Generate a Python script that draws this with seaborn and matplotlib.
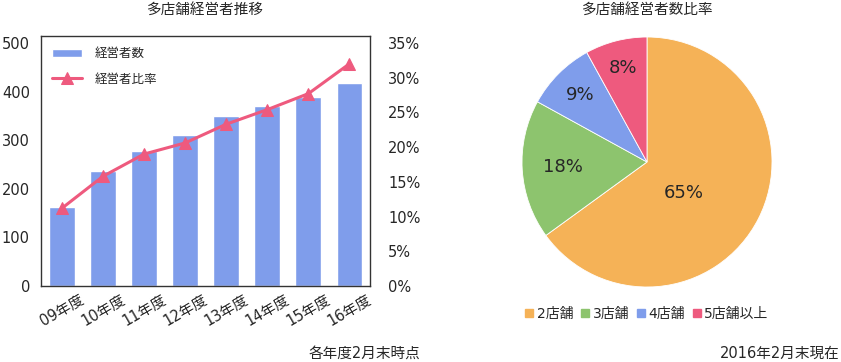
import matplotlib
matplotlib.use("Agg")
import matplotlib.pyplot as plt
import seaborn as sns
import pandas as pd
import numpy as np
from matplotlib.ticker import FuncFormatter
from matplotlib.patches import Patch

sns.set_theme(style="white")
plt.rcParams['font.family'] = ['DejaVu Sans', 'Noto Sans CJK JP']

years = ["09年度", "10年度", "11年度", "12年度", "13年度", "14年度", "15年度", "16年度"]
managers = [163, 237, 278, 311, 350, 370, 389, 418]
ratio = [11.2, 15.8, 19.0, 20.6, 23.3, 25.4, 27.7, 32.0]

pie_labels = ["2店舗", "3店舗", "4店舗", "5店舗以上"]
pie_values = [65, 18, 9, 8]

bar_color = "#7F9DEB"
line_color = "#EE5A7E"
pie_colors = ["#F5B257", "#8DC46E", "#7F9DEB", "#EE5A7E"]
label_radii = [0.38, 0.67, 0.76, 0.78]

fig = plt.figure(figsize=(8.41, 3.62), dpi=100)
W, H = 841, 362
ax = fig.add_axes([41 / W, 1 - 286 / H, (370 - 41) / W, (286 - 36) / H])

df = pd.DataFrame({"year": years, "managers": managers, "ratio": ratio})
sns.barplot(data=df, x="year", y="managers", color=bar_color, saturation=1,
            width=0.63, ax=ax, label="経営者数")
ax.set_ylim(0, 514.4)
ax.set_xlim(-0.51, 7.5)
ax.set_yticks([0, 100, 200, 300, 400, 500])
ax.set_xlabel("")
ax.set_ylabel("")
ax.tick_params(axis="y", labelsize=10.5, length=0, pad=8)
ax.tick_params(axis="x", labelsize=10.5, length=0, pad=4)
for lbl in ax.get_xticklabels():
    lbl.set_rotation(30)
    lbl.set_ha("center")
for s in ax.spines.values():
    s.set_color("#333333")
    s.set_linewidth(1)

ax2 = ax.twinx()
sns.lineplot(x=list(range(len(years))), y=ratio, ax=ax2, color=line_color,
             marker="^", markersize=8, linewidth=2.2, markeredgecolor=line_color,
             label="経営者比率", legend=False)
ax2.set_ylim(0, 36.0)
ax2.set_yticks([0, 5, 10, 15, 20, 25, 30, 35])
ax2.yaxis.set_major_formatter(FuncFormatter(lambda v, p: f"{int(v)}%"))
ax2.tick_params(axis="y", labelsize=10.5, length=0, pad=13)
ax2.set_ylabel("")
for s in ax2.spines.values():
    s.set_visible(False)

h1, l1 = ax.get_legend_handles_labels()
h2, l2 = ax2.get_legend_handles_labels()
if ax.get_legend():
    ax.get_legend().remove()
ax2.legend(h1 + h2, l1 + l2, loc="upper left", frameon=False, fontsize=9,
           handlelength=2.4, handletextpad=1.0, borderaxespad=0.5, labelspacing=1.0)

fig.text(205 / W, 1 - 9 / H, "多店舗経営者推移", ha="center", va="center", fontsize=10.5)
fig.text(420 / W, 1 - 353 / H, "各年度2月末時点", ha="right", va="center", fontsize=10.5)

# pie
R = 125
axp = fig.add_axes([(647 - R) / W, 1 - (162 + R) / H, 2 * R / W, 2 * R / H])
wedges, texts = axp.pie(pie_values, colors=pie_colors, startangle=90, counterclock=False,
                        wedgeprops=dict(edgecolor="white", linewidth=0.6))
axp.set_xlim(-1, 1)
axp.set_ylim(-1, 1)
for w, v, r in zip(wedges, pie_values, label_radii):
    mid = np.deg2rad((w.theta1 + w.theta2) / 2)
    if v > 50:
        mid = np.deg2rad(-40)
    axp.text(r * np.cos(mid), r * np.sin(mid), f"{v}%", ha="center", va="center", fontsize=13)

fig.text(647 / W, 1 - 9 / H, "多店舗経営者数比率", ha="center", va="center", fontsize=10.5)
fig.text(840 / W, 1 - 353 / H, "2016年2月末現在", ha="right", va="center", fontsize=10.5)

handles = [Patch(color=c, label=l) for c, l in zip(pie_colors, pie_labels)]
fig.legend(handles=handles, loc="center", bbox_to_anchor=(647 / W, 1 - 314 / H), ncol=4,
           frameon=False, fontsize=10, handlelength=0.55, handleheight=0.55,
           handletextpad=0.25, columnspacing=0.6, borderpad=0, borderaxespad=0)

fig.savefig("out.png", dpi=100)
